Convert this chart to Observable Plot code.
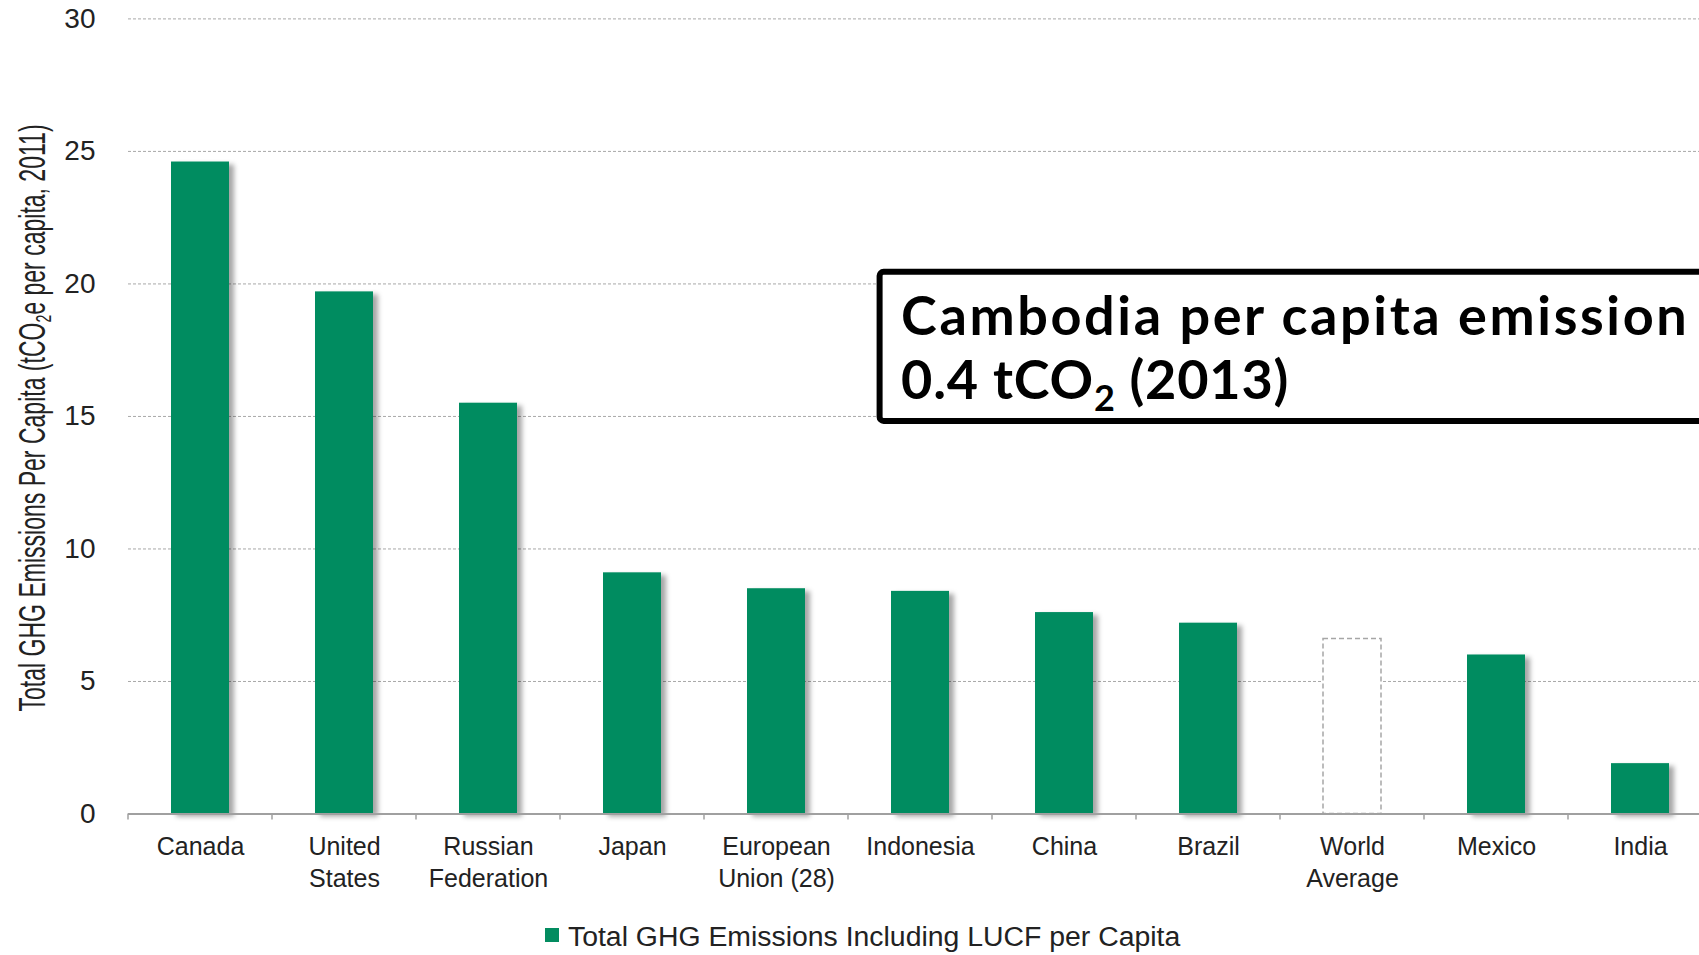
<!DOCTYPE html>
<html>
<head>
<meta charset="utf-8">
<script src="https://cdn.jsdelivr.net/npm/d3@7"></script>
<script src="https://cdn.jsdelivr.net/npm/@observablehq/plot@0.6"></script>
<style>
  html, body { margin: 0; padding: 0; background: #fff; overflow: hidden; width: 1699px; height: 955px; }
  #chart svg { display: block; }
  #legend { position: relative; height: 50px; width: 1699px; font-family: "Liberation Sans", Arial, sans-serif; color: #222; }
  #legend .sw { position: absolute; left: 545px; top: 23px; width: 14px; height: 14px; }
  #legend .lb { position: absolute; left: 568px; top: 17px; font-size: 28.4px; line-height: 28px; white-space: nowrap; }
</style>
</head>
<body>
<div id="chart"></div>
<div id="legend"><span class="sw"></span><span class="lb"></span></div>
<script>
// ---- data ----
const categories = ["Canada", "United\nStates", "Russian\nFederation", "Japan", "European\nUnion (28)", "Indonesia", "China", "Brazil", "World\nAverage", "Mexico", "India"];
const values = [24.6, 19.7, 15.5, 9.1, 8.5, 8.4, 7.6, 7.2, 6.6, 6.0, 1.9];
const averageCategory = "World\nAverage";
const yTicks = [0, 5, 10, 15, 20, 25, 30];
const seriesName = "Total GHG Emissions Including LUCF per Capita";
const yTitleParts = ["Total GHG Emissions Per Capita (tCO", "2", "e per capita, 2011)"];
const noteLine1 = "Cambodia per capita emission";
const noteLine2Parts = ["0.4 tCO", "2", " (2013)"];
const noteRange = [14.7, 20.55]; // y extent of the note box (chart units)
const noteAnchorCategory = "Indonesia";

// ---- style ----
const green = "#038c60";
const W = 1699, H = 905;
const y0px = 813.5, y30px = 18.4;

const data = categories.map((c, i) => ({category: c, value: values[i], avg: c === averageCategory}));

const chart = Plot.plot({
  width: W,
  height: H,
  marginLeft: 128,
  marginRight: 0,
  marginTop: y30px,
  marginBottom: H - y0px,
  style: {fontFamily: "'Liberation Sans', Arial, sans-serif", background: "#fff", color: "#222"},
  x: {domain: categories, range: [128, 1712], paddingInner: 0.6, paddingOuter: 0.3, label: null},
  y: {domain: [0, 30], label: null},
  marks: [
    Plot.gridY(yTicks.filter(v => v > 0), {stroke: "#a8a8a8", strokeOpacity: 1, strokeDasharray: "3,2"}),
    Plot.barY(data.filter(d => !d.avg), {x: "category", y: "value", fill: green}),
    Plot.barY(data.filter(d => d.avg), {x: "category", y: "value", fill: "#fff", stroke: "#a6a6a6", strokeWidth: 1.5, strokeDasharray: "5,3"}),
    Plot.ruleY([0], {stroke: "#a0a0a0", strokeWidth: 2}),
    Plot.axisY(yTicks, {tickSize: 0, tickPadding: 33, fontSize: 28, label: null, tickFormat: d => String(d)}),
    Plot.axisX({tickSize: 0, tickPadding: 18.5, fontSize: 25, lineHeight: 1.28, label: null})
  ]
});

document.getElementById("chart").appendChild(chart);

const svg = d3.select(chart);
const xs = chart.scale("x");
const ys = chart.scale("y");

// drop shadow for green bars
const defs = svg.insert("defs", ":first-child");
const f = defs.append("filter").attr("id", "barShadow").attr("x", "-20%").attr("y", "-5%").attr("width", "160%").attr("height", "115%");
f.append("feDropShadow").attr("dx", 5).attr("dy", 3).attr("stdDeviation", 2.5).attr("flood-color", "#000").attr("flood-opacity", 0.35);
svg.selectAll('g[aria-label="bar"]').filter((d, i) => i === 0).attr("filter", "url(#barShadow)");

// category boundary ticks on the baseline
const step = xs.step, bw = xs.bandwidth;
const gap = step - bw;
const bounds = categories.map(c => xs.apply(c) - gap / 2);
bounds.push(xs.apply(categories[categories.length - 1]) + bw + gap / 2);
const baseY = ys.apply(0);
const tg = svg.append("g").attr("stroke", "#a0a0a0").attr("stroke-width", 1.5);
bounds.forEach(b => tg.append("line").attr("x1", b).attr("x2", b).attr("y1", baseY).attr("y2", baseY + 6));

// y axis title
const yt = svg.append("text")
  .attr("transform", `translate(45,${(ys.apply(0) + ys.apply(30)) / 2 + 2}) rotate(-90)`)
  .attr("text-anchor", "middle")
  .attr("font-family", "'Liberation Sans', Arial, sans-serif")
  .attr("font-size", 36)
  .attr("fill", "#222")
  .attr("textLength", 587)
  .attr("lengthAdjust", "spacingAndGlyphs");
yt.append("tspan").text(yTitleParts[0]);
yt.append("tspan").attr("font-size", 22).attr("dy", 6).text(yTitleParts[1]);
yt.append("tspan").attr("dy", -6).text(yTitleParts[2]);

// annotation box
const boxLeft = xs.apply(noteAnchorCategory) - 0.1 * step;
const boxTop = ys.apply(noteRange[1]);
const boxBottom = ys.apply(noteRange[0]);
const ng = svg.append("g").attr("text-anchor", "start");
ng.append("rect")
  .attr("x", boxLeft + 3).attr("y", boxTop + 3)
  .attr("width", W + 100 - boxLeft).attr("height", boxBottom - boxTop - 6)
  .attr("rx", 4)
  .attr("fill", "#fff").attr("stroke", "#000").attr("stroke-width", 6);
ng.append("text")
  .attr("font-family", "Lato, 'Open Sans', sans-serif")
  .attr("font-weight", "bold")
  .attr("font-size", 54)
  .attr("letter-spacing", 2.6)
  .attr("fill", "#000")
  .attr("text-anchor", "start")
  .attr("x", boxLeft + 24.5).attr("y", boxTop + 66)
  .text(noteLine1);
const l2 = ng.append("text")
  .attr("font-family", "Lato, 'Open Sans', sans-serif")
  .attr("font-weight", "bold")
  .attr("font-size", 54)
  .attr("letter-spacing", 0.8)
  .attr("fill", "#000")
  .attr("text-anchor", "start")
  .attr("x", boxLeft + 24.5).attr("y", boxTop + 130);
l2.append("tspan").text(noteLine2Parts[0]);
l2.append("tspan").attr("font-size", 36).attr("dy", 12).text(noteLine2Parts[1]);
l2.append("tspan").attr("dy", -12).text(noteLine2Parts[2]);

// legend
d3.select("#legend .sw").style("background", green);
d3.select("#legend .lb").text(seriesName);
</script>
</body>
</html>
